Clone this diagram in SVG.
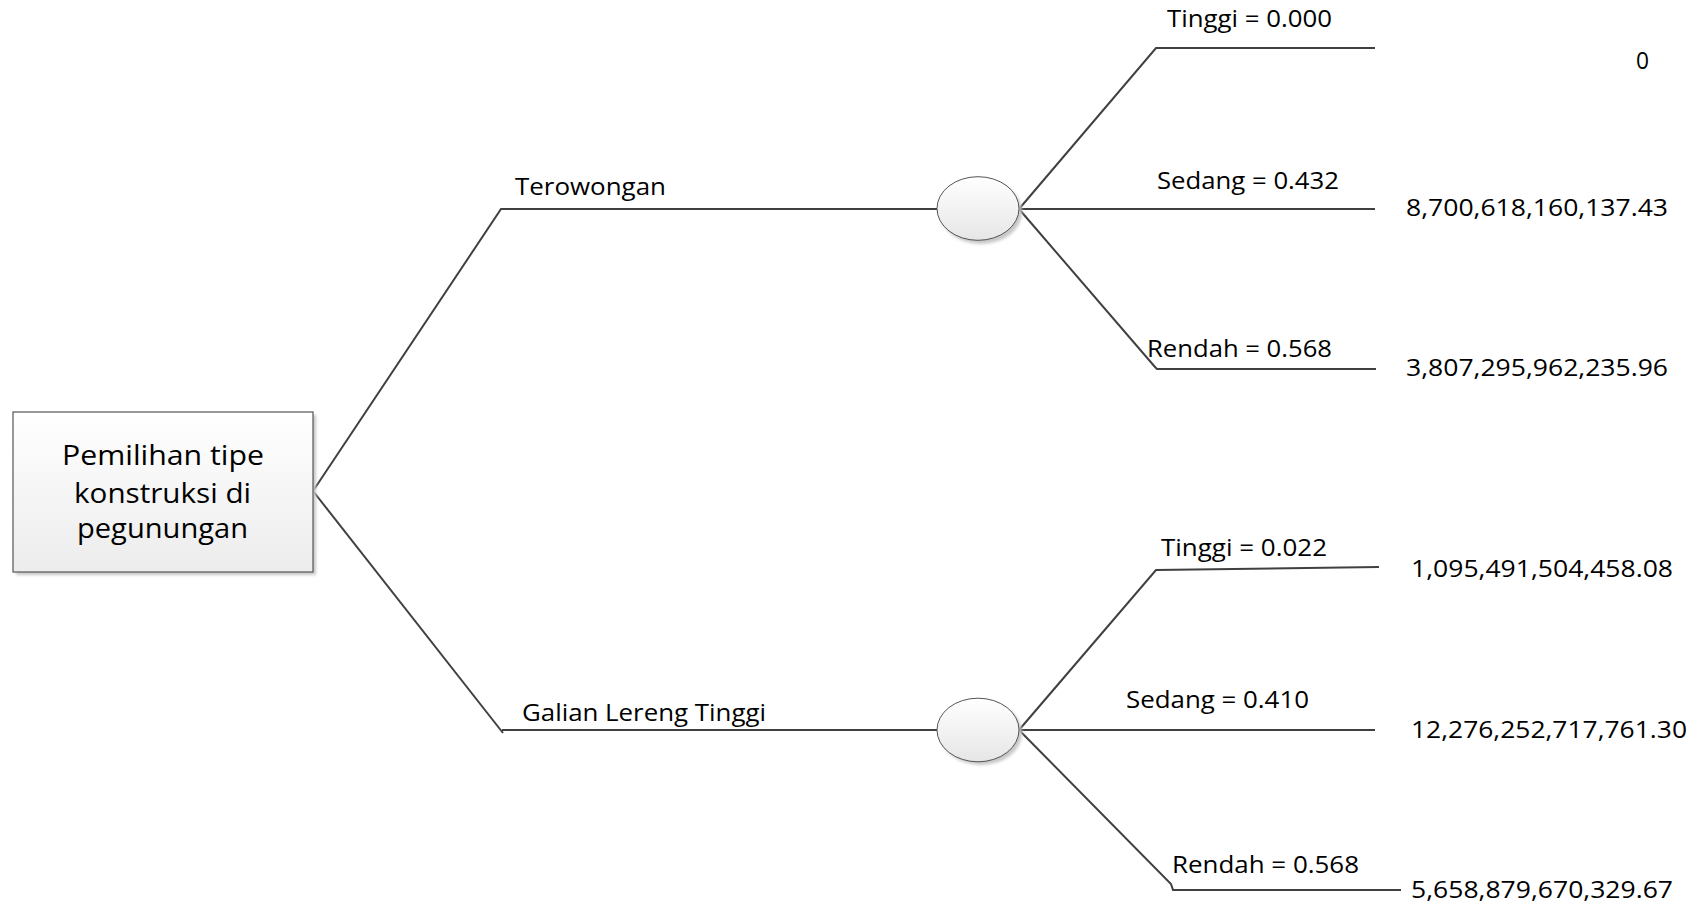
<svg xmlns="http://www.w3.org/2000/svg" width="1700" height="905" viewBox="0 0 1700 905">
<defs>
<linearGradient id="boxFill" x1="0" y1="0" x2="0" y2="1">
<stop offset="0" stop-color="#ffffff"/>
<stop offset="1" stop-color="#ececec"/>
</linearGradient>
<linearGradient id="ovalFill" x1="0" y1="0" x2="0" y2="1">
<stop offset="0" stop-color="#ffffff"/>
<stop offset="1" stop-color="#e6e6e6"/>
</linearGradient>
<filter id="shadow" x="-20%" y="-20%" width="140%" height="140%">
<feGaussianBlur stdDeviation="1.5"/>
</filter>
</defs>
<style>
.lbl{font-family:"Open Sans","Liberation Sans",sans-serif;font-size:23.5px;fill:#000;}
.box{font-family:"Open Sans","Liberation Sans",sans-serif;font-size:27px;fill:#000;}
.edge{fill:none;stroke:#404040;stroke-width:2;}
.shd{fill:#c8c8c8;filter:url(#shadow);}
</style>
<rect width="1700" height="905" fill="#ffffff"/>
<g id="connectors">
<path class="edge" d="M313,491 L501,209 L937,209"/>
<path class="edge" d="M313,491 L503,733"/>
<path class="edge" d="M502,730 L937,730"/>
<path class="edge" d="M1019,209 L1156,48 L1375,48"/>
<path class="edge" d="M1019,209 L1375,209"/>
<path class="edge" d="M1019,209 L1155,367 L1157,369 L1376,369"/>
<path class="edge" d="M1019,730 L1156,570 L1379,567"/>
<path class="edge" d="M1019,730 L1375,730"/>
<path class="edge" d="M1019,730 L1171,884 L1173,890 L1401,890"/>
</g>
<g id="root">
<rect class="shd" x="16" y="415" width="300" height="160"/>
<rect x="13" y="412" width="300" height="160" fill="url(#boxFill)" stroke="#555555" stroke-width="1.2"/>
<text class="box" x="62" y="465" textLength="202" lengthAdjust="spacingAndGlyphs">Pemilihan tipe</text>
<text class="box" x="74" y="503" textLength="177" lengthAdjust="spacingAndGlyphs">konstruksi di</text>
<text class="box" x="77" y="538" textLength="171" lengthAdjust="spacingAndGlyphs">pegunungan</text>
</g>
<g id="opt-terowongan">
<text class="lbl" x="515" y="195" textLength="151" lengthAdjust="spacingAndGlyphs">Terowongan</text>
</g>
<g id="chance-terowongan">
<ellipse class="shd" cx="981" cy="212" rx="41" ry="32"/>
<ellipse cx="978" cy="208.5" rx="41" ry="31.8" fill="url(#ovalFill)" stroke="#555555" stroke-width="1"/>
</g>
<g id="opt-galian">
<text class="lbl" x="522" y="721" textLength="244" lengthAdjust="spacingAndGlyphs">Galian Lereng Tinggi</text>
</g>
<g id="chance-galian">
<ellipse class="shd" cx="981" cy="733" rx="41" ry="32"/>
<ellipse cx="978" cy="730" rx="41" ry="31.8" fill="url(#ovalFill)" stroke="#555555" stroke-width="1"/>
</g>
<g id="t-tinggi">
<text class="lbl" x="1167" y="27" textLength="165" lengthAdjust="spacingAndGlyphs">Tinggi = 0.000</text>
<text class="lbl" x="1636" y="69" textLength="13" lengthAdjust="spacingAndGlyphs">0</text>
</g>
<g id="t-sedang">
<text class="lbl" x="1157" y="189" textLength="182" lengthAdjust="spacingAndGlyphs">Sedang = 0.432</text>
<text class="lbl" x="1406" y="216" textLength="262" lengthAdjust="spacingAndGlyphs">8,700,618,160,137.43</text>
</g>
<g id="t-rendah">
<text class="lbl" x="1147" y="357" textLength="185" lengthAdjust="spacingAndGlyphs">Rendah = 0.568</text>
<text class="lbl" x="1406" y="376" textLength="262" lengthAdjust="spacingAndGlyphs">3,807,295,962,235.96</text>
</g>
<g id="g-tinggi">
<text class="lbl" x="1161" y="556" textLength="166" lengthAdjust="spacingAndGlyphs">Tinggi = 0.022</text>
<text class="lbl" x="1411" y="577" textLength="262" lengthAdjust="spacingAndGlyphs">1,095,491,504,458.08</text>
</g>
<g id="g-sedang">
<text class="lbl" x="1126" y="708" textLength="183" lengthAdjust="spacingAndGlyphs">Sedang = 0.410</text>
<text class="lbl" x="1411" y="738" textLength="276" lengthAdjust="spacingAndGlyphs">12,276,252,717,761.30</text>
</g>
<g id="g-rendah">
<text class="lbl" x="1172" y="873" textLength="187" lengthAdjust="spacingAndGlyphs">Rendah = 0.568</text>
<text class="lbl" x="1411" y="898" textLength="262" lengthAdjust="spacingAndGlyphs">5,658,879,670,329.67</text>
</g>
</svg>
